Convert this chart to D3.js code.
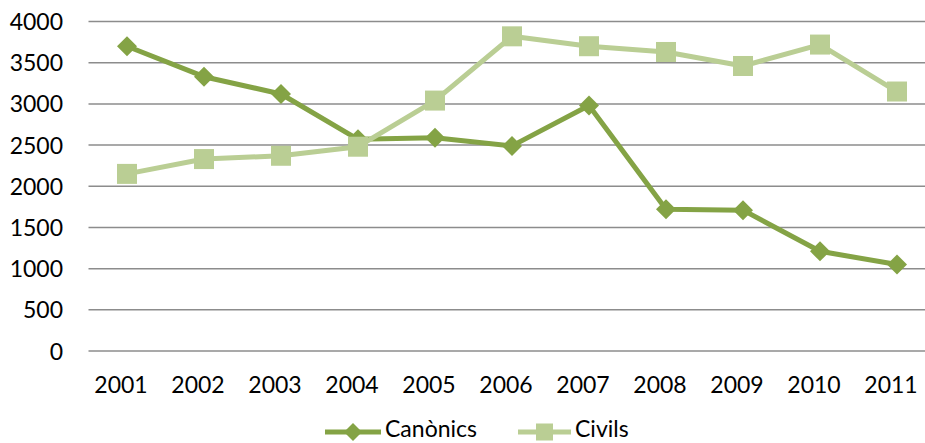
<!DOCTYPE html>
<html><head><meta charset="utf-8">
<script src="https://cdn.jsdelivr.net/npm/d3@7"></script>
<style>html,body{margin:0;padding:0;background:#fff;} svg{display:block;}</style>
</head><body>
<svg id="c" width="925" height="443"></svg>
<script>
const years = ["2001","2002","2003","2004","2005","2006","2007","2008","2009","2010","2011"];
const canonics = [3700,3330,3120,2570,2590,2490,2980,1720,1710,1210,1050];
const civils = [2150,2330,2370,2480,3040,3820,3700,3630,3460,3720,3150];
const yTicks = [0,500,1000,1500,2000,2500,3000,3500,4000];
const seriesNames = ["Canònics","Civils"];
const colors = ["#84A345","#BACE94"];

(function(){
const svg = d3.select("#c");
const font = "Lato, 'Open Sans', sans-serif";
const fs = 23;
const pLeft = 88.5, pRight = 935.5, pTop = 21.5, pBottom = 351;
const x = d3.scaleBand().domain(years).range([pLeft, pRight]);
const y = d3.scaleLinear().domain([0,4000]).range([pBottom, pTop]);
const cx = d => x(d) + x.bandwidth()/2;

// gridlines
svg.append("g").selectAll("line").data(yTicks).join("line")
  .attr("x1", pLeft).attr("x2", 925)
  .attr("y1", d => y(d)).attr("y2", d => y(d))
  .attr("stroke", "#8c8c8c").attr("stroke-width", 1.5);

// y axis labels
const yAxis = d3.axisLeft(y).tickValues(yTicks).tickFormat(d3.format("d")).tickSize(0).tickPadding(0);
const gy = svg.append("g").attr("transform", `translate(63,0)`).call(yAxis);
gy.select(".domain").remove();
gy.selectAll("text").attr("font-family", font).attr("font-size", fs).attr("fill", "#000").attr("dy","0.35em");

// x axis labels
const xAxis = d3.axisBottom(x).tickSize(0).tickPadding(0);
const gx = svg.append("g").attr("transform", `translate(-6,${pBottom+34})`).call(xAxis);
gx.select(".domain").remove();
gx.selectAll("text").attr("font-family", font).attr("font-size", fs).attr("fill", "#000").attr("dy","0.35em");

const line = d3.line().x((d,i) => cx(years[i])).y(d => y(d));
const diamond = (s) => `M0,${-s}L${s},0L0,${s}L${-s},0Z`;

// Canònics
svg.append("path").datum(canonics).attr("d", line)
  .attr("fill","none").attr("stroke", colors[0]).attr("stroke-width",5).attr("stroke-linejoin","round");
svg.append("g").selectAll("path").data(canonics).join("path")
  .attr("transform",(d,i)=>`translate(${cx(years[i])},${y(d)})`)
  .attr("d", diamond(10)).attr("fill", colors[0]);

// Civils
svg.append("path").datum(civils).attr("d", line)
  .attr("fill","none").attr("stroke", colors[1]).attr("stroke-width",5).attr("stroke-linejoin","round");
svg.append("g").selectAll("rect").data(civils).join("rect")
  .attr("x",(d,i)=>cx(years[i])-10).attr("y", d=>y(d)-10)
  .attr("width",20).attr("height",20).attr("fill", colors[1]);

// legend
const ly = 432;
const leg = [{x1:325,x2:381,tx:385},{x1:518,x2:571,tx:575}];
leg.forEach((l,i)=>{
  svg.append("line").attr("x1",l.x1).attr("x2",l.x2).attr("y1",ly).attr("y2",ly)
    .attr("stroke",colors[i]).attr("stroke-width",5);
  const mx = (l.x1+l.x2)/2;
  if(i===0){
    svg.append("path").attr("transform",`translate(${mx},${ly})`).attr("d",diamond(9)).attr("fill",colors[0]);
  } else {
    svg.append("rect").attr("x",mx-8.5).attr("y",ly-8.5).attr("width",17).attr("height",17).attr("fill",colors[1]);
  }
  svg.append("text").attr("x",l.tx).attr("y",437)
    .attr("font-family",font).attr("font-size",fs).attr("fill","#000").text(seriesNames[i]);
});
})();
</script>
</body></html>
